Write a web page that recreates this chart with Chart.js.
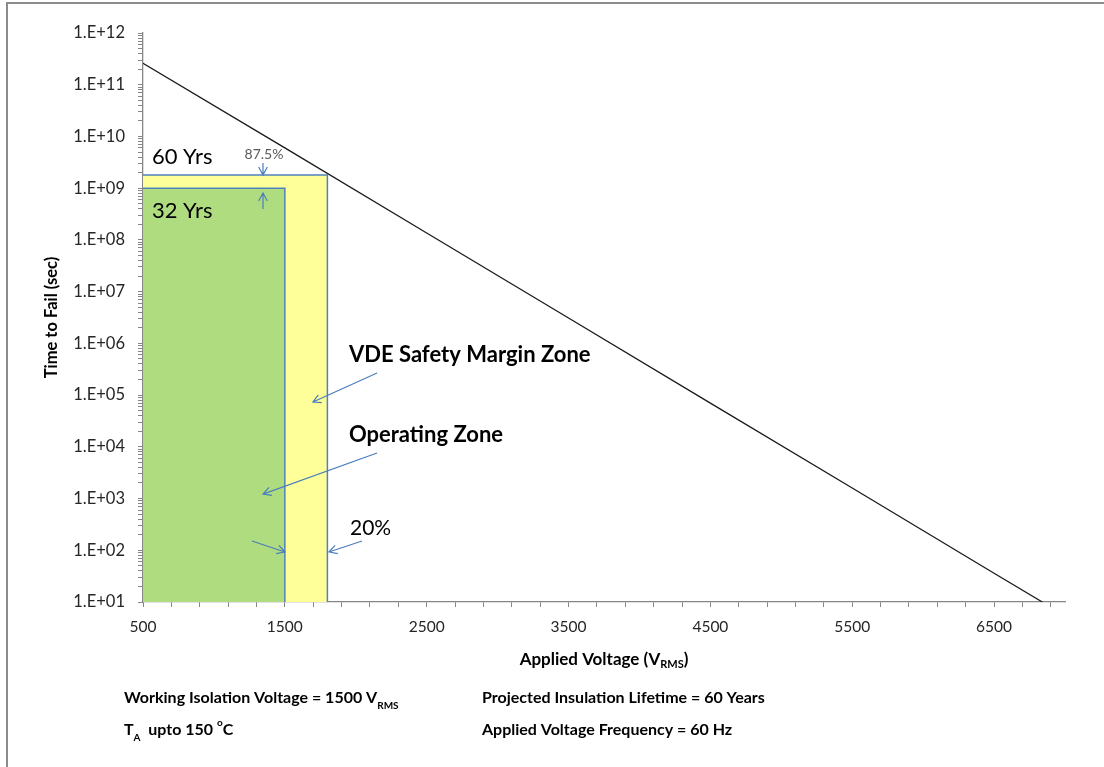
<!DOCTYPE html>
<html>
<head>
<meta charset="utf-8">
<script src="https://cdn.jsdelivr.net/npm/chart.js@4.4.1/dist/chart.umd.min.js"></script>
<style>
  html, body { margin: 0; padding: 0; background: #fff; }
  #wrap { position: relative; width: 1104px; height: 767px; }
</style>
</head>
<body>
<div id="wrap"><canvas id="ttf" width="1104" height="767"></canvas></div>
<script>
// failure curve (V_RMS, seconds)
const voltage = [500, 1500, 2500, 3500, 4500, 5500, 6500, 6840];
const timeToFail = [2.6e11, 6.0e9, 1.36e8, 3.1e6, 7.0e4, 1.6e3, 36, 10];

// zones: 60 yrs up to 1800 V, 32 yrs up to 1500 V
const vdeZoneV = [500, 1800, 1800];
const vdeZoneT = [1.8e9, 1.8e9, 10];
const opZoneV = [500, 1500, 1500];
const opZoneT = [1.0e9, 1.0e9, 10];

const xTickLabels = ['500', '1500', '2500', '3500', '4500', '5500', '6500'];
const yTickLabels = ['1.E+01', '1.E+02', '1.E+03', '1.E+04', '1.E+05', '1.E+06',
                     '1.E+07', '1.E+08', '1.E+09', '1.E+10', '1.E+11', '1.E+12'];

const FONT = 'Lato, "Open Sans", sans-serif';
const BLUE = '#4f81bd';

function pts(xs, ys) { return xs.map((x, i) => ({x: x, y: ys[i]})); }

function arrow(ctx, x1, y1, x2, y2) {
  const a = Math.atan2(y2 - y1, x2 - x1), h = 9;
  ctx.beginPath();
  ctx.moveTo(x1, y1); ctx.lineTo(x2, y2);
  ctx.moveTo(x2 - h * Math.cos(a - 0.5), y2 - h * Math.sin(a - 0.5));
  ctx.lineTo(x2, y2);
  ctx.lineTo(x2 - h * Math.cos(a + 0.5), y2 - h * Math.sin(a + 0.5));
  ctx.stroke();
}

// text with sub/superscript pieces: [text, size, dy]
function runs(ctx, x, y, parts, weight) {
  parts.forEach(p => {
    ctx.font = weight + ' ' + p[1] + 'px ' + FONT;
    ctx.fillText(p[0], x, y + p[2]);
    x += ctx.measureText(p[0]).width;
  });
  return x;
}
function runsWidth(ctx, parts, weight) {
  let w = 0;
  parts.forEach(p => { ctx.font = weight + ' ' + p[1] + 'px ' + FONT; w += ctx.measureText(p[0]).width; });
  return w;
}

const notes = {
  id: 'notes',
  afterDatasetsDraw(chart) {
    const ctx = chart.ctx, xs = chart.scales.x, ys = chart.scales.y;
    const X = v => xs.getPixelForValue(v), Y = t => ys.getPixelForValue(t);
    ctx.save();
    ctx.textBaseline = 'middle';
    ctx.fillStyle = '#000';
    ctx.font = '22px ' + FONT;
    ctx.fillText('60 Yrs', X(563), Y(4.0e9));
    ctx.fillText('32 Yrs', X(563), Y(3.6e8));
    ctx.font = '21px ' + FONT;
    ctx.fillText('20%', X(1959), Y(269));
    ctx.font = 'bold 22px ' + FONT;
    ctx.fillText('VDE Safety Margin Zone', X(1952), Y(5.96e5));
    ctx.fillText('Operating Zone', X(1952), Y(1.69e4));
    ctx.font = '14px ' + FONT;
    ctx.fillStyle = '#595959';
    ctx.textAlign = 'center';
    ctx.fillText('87.5%', X(1353), Y(4.57e9));

    ctx.strokeStyle = '#4a7ebb';
    ctx.lineWidth = 1.2;
    arrow(ctx, X(1346), Y(3.06e9), X(1346), Y(1.8e9));
    arrow(ctx, X(1346), Y(3.95e8), X(1346), Y(8.05e8));
    arrow(ctx, X(2150), Y(2.67e5), X(1698), Y(7.35e4));
    arrow(ctx, X(2150), Y(7.59e3), X(1346), Y(1.22e3));
    arrow(ctx, X(1268), Y(151), X(1501), Y(92.7));
    arrow(ctx, X(2044), Y(151), X(1811), Y(92.7));
    ctx.restore();
  },
  afterDraw(chart) {
    const ctx = chart.ctx, a = chart.chartArea;
    ctx.save();
    // frame
    ctx.strokeStyle = '#8c8c8c';
    ctx.lineWidth = 2;
    ctx.beginPath();
    ctx.moveTo(7, 767); ctx.lineTo(7, 3); ctx.lineTo(1104, 3);
    ctx.stroke();

    ctx.fillStyle = '#000';
    ctx.textBaseline = 'alphabetic';
    // x axis title
    const title = [['Applied Voltage (V', 17, 0], ['RMS', 11, 3], [')', 17, 0]];
    const w = runsWidth(ctx, title, 'bold');
    runs(ctx, (a.left + a.right) / 2 - w / 2, a.bottom + 63, title, 'bold');

    // footnotes
    runs(ctx, 124, 703, [['Working Isolation Voltage = 1500 V', 16, 0], ['RMS', 10, 6]], 'bold');
    runs(ctx, 482, 703, [['Projected Insulation Lifetime = 60 Years', 16, 0]], 'bold');
    runs(ctx, 124, 735, [['T', 16, 0], ['A', 10, 6], ['  upto 150 ', 16, 0], ['o', 10, -9], ['C', 16, 0]], 'bold');
    runs(ctx, 482, 735, [['Applied Voltage Frequency = 60 Hz', 16, 0]], 'bold');
    ctx.restore();
  }
};

new Chart(document.getElementById('ttf'), {
  type: 'line',
  data: {
    datasets: [{
      label: 'Time to Fail',
      data: pts(voltage, timeToFail),
      borderColor: '#1a1a1a',
      borderWidth: 1.3,
      pointRadius: 0,
      fill: false,
      order: 0
    }, {
      label: 'Operating Zone',
      data: pts(opZoneV, opZoneT),
      borderColor: BLUE,
      borderWidth: 1.5,
      backgroundColor: '#b0dc80',
      pointRadius: 0,
      fill: 'start',
      order: 1
    }, {
      label: 'VDE Safety Margin Zone',
      data: pts(vdeZoneV, vdeZoneT),
      borderColor: BLUE,
      borderWidth: 1.5,
      backgroundColor: '#ffff99',
      pointRadius: 0,
      fill: 'start',
      order: 2
    }]
  },
  options: {
    responsive: false,
    animation: false,
    devicePixelRatio: 1,
    layout: { padding: { top: 33, right: 39, left: 0, bottom: 105 } },
    plugins: { legend: { display: false }, tooltip: { enabled: false } },
    scales: {
      x: {
        type: 'linear',
        min: 500,
        max: 7000,
        afterBuildTicks(s) {
          const t = [];
          for (let v = 500; v < 7000; v += 200) t.push({value: v});
          s.ticks = t;
        },
        afterFit(s) { s.height = 60; },
        border: { color: '#868686', width: 1.3 },
        grid: { drawOnChartArea: false, tickLength: 5, tickColor: '#868686' },
        ticks: {
          autoSkip: false,
          maxRotation: 0,
          padding: 11,
          color: '#262626',
          font: { family: FONT, size: 15.5 },
          callback(v) { return xTickLabels.includes(String(v)) ? String(v) : ''; }
        }
      },
      y: {
        type: 'logarithmic',
        min: 10,
        max: 1e12,
        afterBuildTicks(s) {
          const t = [];
          for (let e = 1; e < 12; e++) for (let m = 1; m < 10; m++) t.push({value: m * Math.pow(10, e)});
          t.push({value: 1e12});
          s.ticks = t;
        },
        afterFit(s) { s.width = 143; },
        border: { color: '#868686', width: 1.3 },
        grid: { drawOnChartArea: false, tickLength: 5, tickColor: '#868686' },
        title: {
          display: true,
          text: 'Time to Fail (sec)',
          color: '#000',
          font: { family: FONT, size: 16.5, weight: 'bold' },
          padding: { top: 42, bottom: 0 }
        },
        ticks: {
          autoSkip: false,
          padding: 13,
          color: '#262626',
          font: { family: FONT, size: 16.5 },
          callback(v) {
            const e = Math.log10(v);
            return Math.abs(e - Math.round(e)) < 1e-9 ? yTickLabels[Math.round(e) - 1] : '';
          }
        }
      }
    }
  },
  plugins: [notes]
});
</script>
</body>
</html>
